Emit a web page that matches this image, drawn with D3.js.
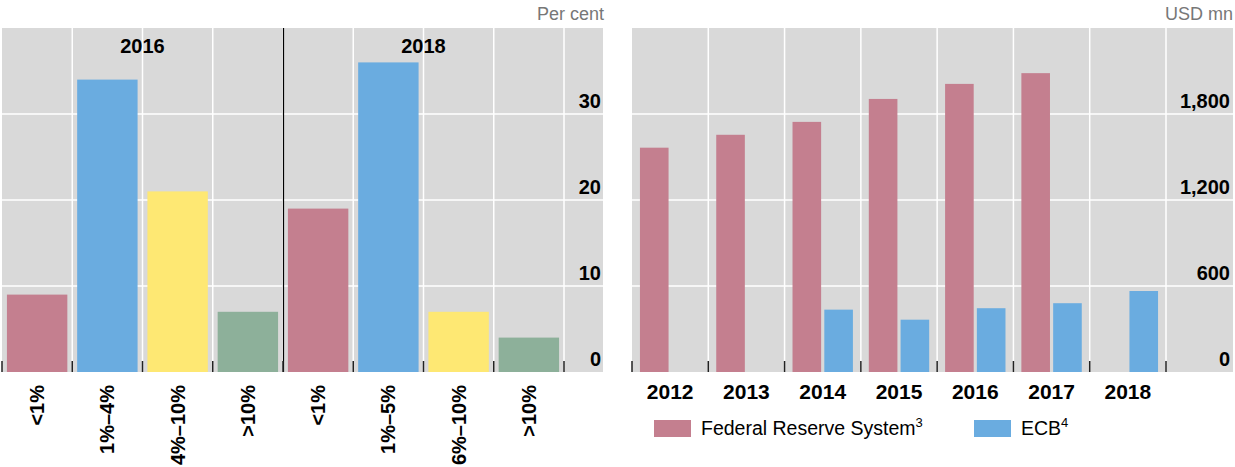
<!DOCTYPE html>
<html>
<head>
<meta charset="utf-8">
<script src="https://cdn.jsdelivr.net/npm/d3@7"></script>
<style>
  body { margin: 0; background: #fff; }
  svg text { font-family: "Liberation Sans", Arial, sans-serif; }
</style>
</head>
<body>
<div id="container"></div>
<script>
/* DATA */
const leftCategories = ["<1%", "1%–4%", "4%–10%", ">10%", "<1%", "1%–5%", "6%–10%", ">10%"];
const leftGroupOf = ["2016", "2016", "2016", "2016", "2018", "2018", "2018", "2018"];
const leftYears = ["2016", "2018"];
const leftValues = [9, 34, 21, 7, 19, 36, 7, 4];
const leftTicks = [0, 10, 20, 30];

const years = ["2012", "2013", "2014", "2015", "2016", "2017", "2018"];
const fedValues = [1565, 1655, 1745, 1905, 2010, 2085, null];
const ecbValues = [null, null, 435, 365, 445, 480, 565];
const rightTicks = [0, 600, 1200, 1800];
const seriesNames = ["Federal Reserve System", "ECB"];
const seriesNotes = ["3", "4"];

/* CONSTANTS */
const width = 1235,
  height = 467,
  plotTop = 28,
  plotBottom = 372;

const bucketColors = ["#c47f8f", "#6aace0", "#fee873", "#8db09a"];
const seriesColors = ["#c47f8f", "#6aace0"];
const panelFill = "#d9d9d9";

const svg = d3.select("#container")
  .append("svg")
  .attr("width", width)
  .attr("height", height);

/* LEFT PANEL */
const xLeftCell = d3.scaleBand()
  .domain(d3.range(leftCategories.length))
  .range([2, 564]);

const xLeft = d3.scaleBand()
  .domain(d3.range(leftCategories.length))
  .range([2, 564])
  .paddingInner(0.14)
  .paddingOuter(0.07);

const xLeftGroup = d3.scaleBand()
  .domain(leftYears)
  .range([2, 564]);

const yLeft = d3.scaleLinear()
  .domain([0, 40])
  .range([plotBottom, plotTop]);

const left = svg.append("g");

left.append("rect")
  .attr("x", 2).attr("y", plotTop)
  .attr("width", 603 - 2).attr("height", plotBottom - plotTop)
  .attr("fill", panelFill);

// horizontal grid
left.selectAll("line.hgrid")
  .data(leftTicks.filter(d => d > 0))
  .join("line")
  .attr("class", "hgrid")
  .attr("x1", 2).attr("x2", 603)
  .attr("y1", d => yLeft(d)).attr("y2", d => yLeft(d))
  .attr("stroke", "#fff").attr("stroke-width", 1.5);

// vertical grid at cell boundaries
left.selectAll("line.vgrid")
  .data(d3.range(1, leftCategories.length + 1))
  .join("line")
  .attr("class", "vgrid")
  .attr("x1", d => xLeftCell.range()[0] + d * xLeftCell.step())
  .attr("x2", d => xLeftCell.range()[0] + d * xLeftCell.step())
  .attr("y1", plotTop).attr("y2", plotBottom)
  .attr("stroke", "#fff").attr("stroke-width", 1.5);

left.selectAll("rect.bar")
  .data(leftValues)
  .join("rect")
  .attr("class", "bar")
  .attr("x", (d, i) => xLeft(i))
  .attr("width", xLeft.bandwidth())
  .attr("y", d => yLeft(d))
  .attr("height", d => yLeft(0) - yLeft(d))
  .attr("fill", (d, i) => bucketColors[i % 4]);

// divider between the two years
left.append("line")
  .attr("x1", Math.round(xLeftGroup("2018")) + 0.5)
  .attr("x2", Math.round(xLeftGroup("2018")) + 0.5)
  .attr("y1", plotTop).attr("y2", plotBottom)
  .attr("stroke", "#000").attr("stroke-width", 1.2);

// bottom tick marks
left.selectAll("line.tick")
  .data(d3.range(0, leftCategories.length + 1))
  .join("line")
  .attr("class", "tick")
  .attr("x1", d => xLeftCell.range()[0] + d * xLeftCell.step())
  .attr("x2", d => xLeftCell.range()[0] + d * xLeftCell.step())
  .attr("y1", plotBottom - 11).attr("y2", plotBottom)
  .attr("stroke", "#222").attr("stroke-width", 1.5);

left.selectAll("text.group")
  .data(leftYears)
  .join("text")
  .attr("class", "group")
  .attr("x", d => xLeftGroup(d) + xLeftGroup.bandwidth() / 2)
  .attr("y", 53)
  .attr("text-anchor", "middle")
  .attr("font-size", 20)
  .attr("font-weight", "bold")
  .text(d => d);

left.selectAll("text.ylab")
  .data(leftTicks)
  .join("text")
  .attr("class", "ylab")
  .attr("x", 601)
  .attr("y", d => yLeft(d) - 6)
  .attr("text-anchor", "end")
  .attr("font-size", 20)
  .attr("font-weight", "bold")
  .text(d => d);

left.selectAll("text.xlab")
  .data(leftCategories)
  .join("text")
  .attr("class", "xlab")
  .attr("transform", (d, i) => `translate(${xLeftCell(i) + xLeftCell.bandwidth() / 2 + 7}, 385) rotate(-90)`)
  .attr("text-anchor", "end")
  .attr("font-size", 20)
  .attr("font-weight", "bold")
  .text(d => d);

left.append("text")
  .attr("x", 604).attr("y", 20)
  .attr("text-anchor", "end")
  .attr("font-size", 18)
  .attr("fill", "#777")
  .text("Per cent");

/* RIGHT PANEL */
const xRight = d3.scaleBand()
  .domain(years)
  .range([632, 1166]);

const xSeries = d3.scaleBand()
  .domain([0, 1])
  .range([0, xRight.bandwidth()])
  .paddingInner(0.1)
  .paddingOuter(0.25);

const yRight = d3.scaleLinear()
  .domain([0, 2400])
  .range([plotBottom, plotTop]);

const right = svg.append("g");

right.append("rect")
  .attr("x", 632).attr("y", plotTop)
  .attr("width", 1233 - 632).attr("height", plotBottom - plotTop)
  .attr("fill", panelFill);

right.selectAll("line.hgrid")
  .data(rightTicks.filter(d => d > 0))
  .join("line")
  .attr("class", "hgrid")
  .attr("x1", 632).attr("x2", 1233)
  .attr("y1", d => yRight(d)).attr("y2", d => yRight(d))
  .attr("stroke", "#fff").attr("stroke-width", 1.5);

right.selectAll("line.vgrid")
  .data(years)
  .join("line")
  .attr("class", "vgrid")
  .attr("x1", d => xRight(d) + xRight.step())
  .attr("x2", d => xRight(d) + xRight.step())
  .attr("y1", plotTop).attr("y2", plotBottom)
  .attr("stroke", "#fff").attr("stroke-width", 1.5);

const seriesData = [fedValues, ecbValues];
seriesData.forEach((values, s) => {
  right.selectAll(`rect.s${s}`)
    .data(years.map((y, i) => ({ year: y, value: values[i] })).filter(d => d.value != null))
    .join("rect")
    .attr("class", `s${s}`)
    .attr("x", d => xRight(d.year) + xSeries(s))
    .attr("width", xSeries.bandwidth())
    .attr("y", d => yRight(d.value))
    .attr("height", d => yRight(0) - yRight(d.value))
    .attr("fill", seriesColors[s]);
});

right.selectAll("line.tick")
  .data(d3.range(0, years.length + 1))
  .join("line")
  .attr("class", "tick")
  .attr("x1", d => 632 + d * xRight.step())
  .attr("x2", d => 632 + d * xRight.step())
  .attr("y1", plotBottom - 11).attr("y2", plotBottom)
  .attr("stroke", "#222").attr("stroke-width", 1.5);

right.selectAll("text.ylab")
  .data(rightTicks)
  .join("text")
  .attr("class", "ylab")
  .attr("x", 1230)
  .attr("y", d => yRight(d) - 6)
  .attr("text-anchor", "end")
  .attr("font-size", 20)
  .attr("font-weight", "bold")
  .text(d => d3.format(",")(d));

right.selectAll("text.xlab")
  .data(years)
  .join("text")
  .attr("class", "xlab")
  .attr("x", d => xRight(d) + xRight.bandwidth() / 2)
  .attr("y", 399)
  .attr("text-anchor", "middle")
  .attr("font-size", 21)
  .attr("font-weight", "bold")
  .text(d => d);

right.append("text")
  .attr("x", 1233).attr("y", 20)
  .attr("text-anchor", "end")
  .attr("font-size", 18)
  .attr("fill", "#777")
  .text("USD mn");

// legend
const legendX = [654, 974];
const legend = right.selectAll("g.legend")
  .data(seriesNames)
  .join("g")
  .attr("class", "legend")
  .attr("transform", (d, i) => `translate(${legendX[i]}, 420)`);

legend.append("rect")
  .attr("width", 37).attr("height", 17)
  .attr("fill", (d, i) => seriesColors[i]);

const legendText = legend.append("text")
  .attr("x", 47).attr("y", 15)
  .attr("font-size", 19.5);
legendText.append("tspan").text(d => d);
legendText.append("tspan")
  .attr("dy", -8)
  .attr("font-size", 13)
  .text((d, i) => seriesNotes[i]);
</script>
</body>
</html>
